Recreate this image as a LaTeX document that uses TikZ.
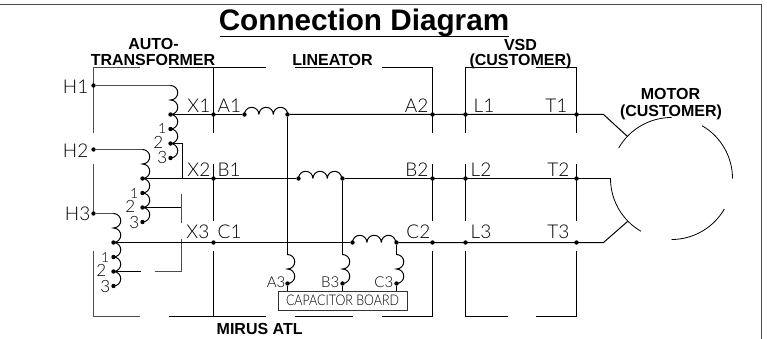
\documentclass[tikz,border=0pt]{standalone}
\usepackage{fontspec}
\usepackage{graphicx}
\setmainfont{Liberation Sans}
\newfontfamily\thinf{Lato Light}
\newcommand\pxfont[1]{\fontsize{#1}{#1}\selectfont}
\newcommand\vcoil[2]{\draw[wire] (#1) \foreach \i in {1,...,#2} {arc[start angle=-90,end angle=90,radius=7.25]};}
\newcommand\hcoil[1]{\draw[wire] (#1) \foreach \i in {1,2,3} {arc[start angle=180,end angle=360,radius=7.2]};}
\newcommand\tapnum[5]{\node[tap,font=\thinf\pxfont{#5},anchor=base east] at ([shift={(#2,#3)}]#1) {#4};}
\tikzset{
  wire/.style={draw=black,line width=1pt},
  box/.style={draw=black!70,line width=1pt},
  dot/.style={circle,fill=black,inner sep=0pt,minimum size=4.4pt},
  term/.style={inner sep=0pt,text=black,font=\thinf\pxfont{19}},
  tap/.style={inner sep=0pt,text=black,font=\thinf\pxfont{15}},
  head/.style={inner sep=0pt,font=\pxfont{16}\bfseries},
  x=1pt,y=-1pt
}
\begin{document}
\begin{tikzpicture}
\useasboundingbox (0,0) rectangle (767,339);
\begin{scope}[xshift=0.5pt,yshift=-0.5pt]
% frame
\draw[draw=black!70,line width=1.3pt] (-1,4) -- (761,4) -- (761,340);
% title
\node[inner sep=0pt,anchor=base,font=\pxfont{29.7}\bfseries] (title) at (363.5,30) {Connection Diagram};
\coordinate (tl) at (219,36); \coordinate (tr) at (508,36);
\draw[wire] (tl) -- (tr);
% broken frames of the four blocks
\draw[box] (139,67) -- (93,67) -- (93,133);
\draw[box] (93,163) -- (93,213);
\draw[box] (93,250) -- (93,316) -- (139,316);
\draw[wire] (168,67) -- (265,67);
\draw[wire] (168,316) -- (265,316);
\draw[wire] (213,67) -- (213,133);
\draw[wire] (213,163) -- (213,220);
\draw[wire] (213,250) -- (213,316);
\draw[wire] (294,67) -- (352,67);
\draw[wire] (294,316) -- (352,316);
\draw[wire] (381,67) -- (432,67) -- (432,133);
\draw[wire] (432,163) -- (432,220);
\draw[wire] (432,250) -- (432,316) -- (381,316);
\draw[wire] (507,67) -- (465,67) -- (465,133);
\draw[wire] (465,163) -- (465,220);
\draw[wire] (465,250) -- (465,316) -- (507,316);
\draw[wire] (535,67) -- (576,67) -- (576,133);
\draw[wire] (576,163) -- (576,220);
\draw[wire] (576,250) -- (576,316) -- (535,316);
% junctions
\foreach \n/\x/\y in {h1/93/85,h2/93/149,h3/93/213,
  xa/170/114,a1/213/114,lai/244/114,lao/287/114,a2/432/114,l1/465/114,t1/576/114,
  xb/142/178,b1/213/178,lbi/298/178,lbo/342/178,b2/432/178,l2/465/178,t2/576/178,
  xc/113/242,c1/213/242,lci/352/242,lco/396/242,c2/432/242,l3/465/242,t3/576/242,
  a3/287/283,b3/342/283,c3/396/283,
  p1/170/128.5,p2/170/143,p3/170/157.5,
  q1/142/192.5,q2/142/207,q3/142/221.5,
  r1/113/256.5,r2/113/271,r3/113/285.5}
  {\node[dot] (\n) at (\x,\y) {};}
% autotransformer
\coordinate (h1c) at (170,85); \coordinate (h2c) at (142,149); \coordinate (h3c) at (113,213);
\draw[box] (h1) -- (h1c); \vcoil{h1c}{2}
\draw[box] (h2) -- (h2c); \vcoil{h2c}{2}
\draw[box] (h3) -- (h3c); \vcoil{h3c}{2}
\foreach \n in {xa,p1,p2,xb,q1,q2,xc,r1,r2} {\vcoil{\n}{1}}
% taps
\coordinate (k1) at (182,143); \coordinate (k2) at (182,178);
\draw[wire] (p2) -- (k1) -- (k2);
\coordinate (k3) at (181,207); \coordinate (k4) at (181,193); \coordinate (k5) at (181,222);
\draw[wire] (q2) -- (k3);
\draw[box] (k4) -- (k5);
\coordinate (k6) at (140,271); \coordinate (k7) at (154,271); \coordinate (k8) at (181,271); \coordinate (k9) at (181,238);
\draw[wire] (r2) -- (k6);
\draw[box] (k7) -- (k8) -- (k9);
% main rows
\coordinate (m1) at (603,114); \coordinate (m1e) at (627,136);
\coordinate (m2) at (610,178);
\coordinate (m3) at (603,242); \coordinate (m3e) at (627,221);
\draw[wire] (xa) -- (lai); \hcoil{lai}
\draw[wire] (lao) -- (m1) -- (m1e);
\draw[wire] (xb) -- (lbi); \hcoil{lbi}
\draw[wire] (lbo) -- (m2);
\draw[wire] (xc) -- (lci); \hcoil{lci}
\draw[wire] (lco) -- (m3) -- (m3e);
% capacitor coils
\coordinate (a3c) at (287,254); \coordinate (b3c) at (342,254); \coordinate (c3c) at (396,254);
\draw[wire] (lao) -- (a3c); \vcoil{a3c}{2}
\draw[wire] (lbo) -- (b3c); \vcoil{b3c}{2}
\draw[wire] (lco) -- (c3c); \vcoil{c3c}{2}
\node[draw=black!80,line width=1pt,minimum width=129pt,minimum height=19pt,inner sep=0pt,anchor=south west] (capb) at (277,310)
  {\resizebox{113pt}{10.5pt}{\thinf\pxfont{14}CAPACITOR BOARD}};
\draw[wire] (a3) -- (a3 |- capb.north);
\draw[wire] (b3) -- (b3 |- capb.north);
\draw[wire] (c3) -- (c3 |- capb.north);
% motor
\coordinate (M) at (671,178);
\draw[wire,line width=0.8pt] ([shift={(-150:61)}]M) arc[start angle=-150,end angle=-90,radius=61];
\draw[wire,line width=0.8pt] ([shift={(-60:61)}]M) arc[start angle=-60,end angle=0,radius=61];
\draw[wire,line width=0.8pt] ([shift={(30:61)}]M) arc[start angle=30,end angle=90,radius=61];
\draw[wire,line width=0.8pt] ([shift={(-180:61)}]M) arc[start angle=-180,end angle=-240,radius=61];
% terminal labels
\foreach \t/\x/\y in {H1/88/93,H2/88/157,H3/90/220,X1/210/112,X2/210/176,X3/209/238,
  A2/428/112,B2/428/176,C2/430/238,T1/567/112,T2/569/176,T3/569/238}
  {\node[term,anchor=base east] at (\x,\y) {\t};}
\foreach \t/\x/\y in {A1/217/112,B1/217/176,C1/217/238,L1/473/112,L2/470/176,L3/470/238}
  {\node[term,anchor=base west] at (\x,\y) {\t};}
\foreach \t/\x/\y in {A3/285/287,B3/339/287,C3/393/287}
  {\node[tap,anchor=base east] at (\x,\y) {\t};}
% tap numbers
\foreach \n in {p,q,r}{
  \tapnum{\n1}{-4}{5}{1}{14}
  \tapnum{\n2}{-7}{5}{2}{17}
  \tapnum{\n3}{-3}{6}{3}{17}
}
% heads
\node[head,anchor=base] at (153,49) {AUTO-};
\node[head,anchor=base] at (152.5,65) {TRANSFORMER};
\node[head,anchor=base] at (332,65) {LINEATOR};
\node[head,anchor=base] at (520,50) {VSD};
\node[head,anchor=base] at (520,65) {(CUSTOMER)};
\node[head,anchor=base] at (670,99) {MOTOR};
\node[head,anchor=base] at (670.5,116) {(CUSTOMER)};
\node[head,anchor=base west] at (216,334) {MIRUS ATL};
\end{scope}
\end{tikzpicture}
\end{document}
